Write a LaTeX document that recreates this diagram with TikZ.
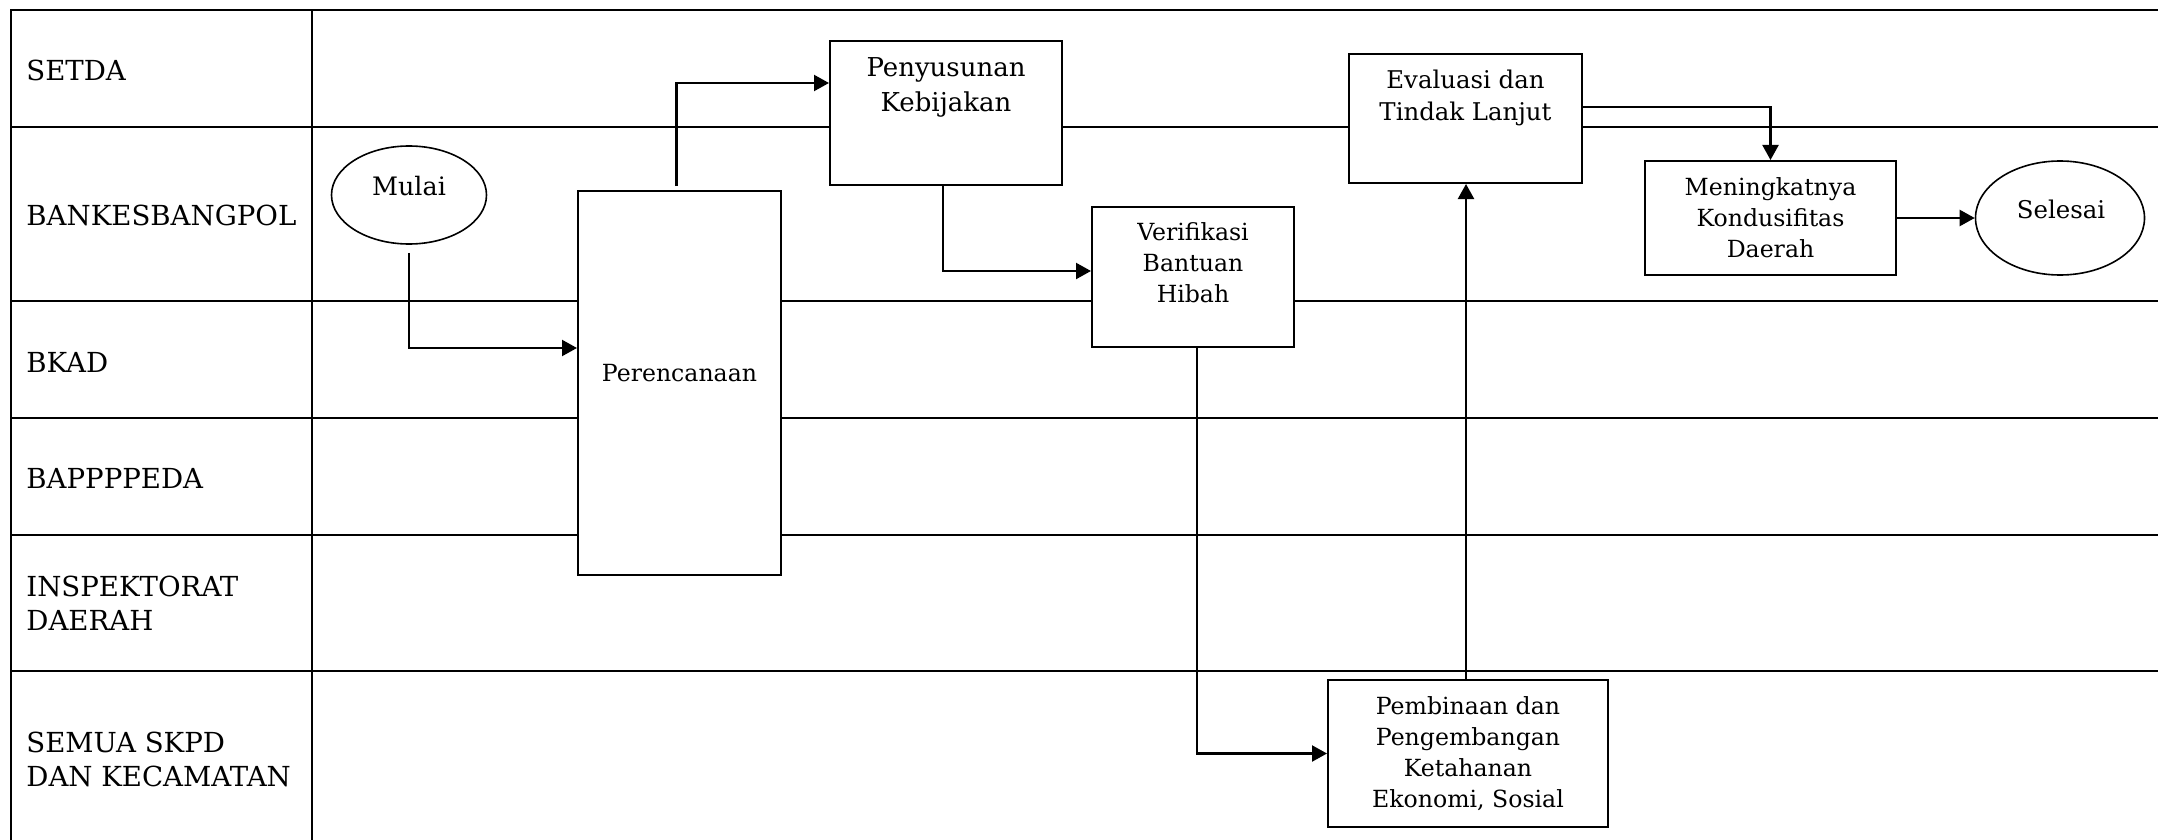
\documentclass[tikz,border=0pt]{standalone}
\usepackage{fontspec}
\setmainfont{DejaVu Serif}
\usetikzlibrary{arrows.meta,shapes.geometric}
\def\pxu{0.5pt}
\tikzset{
  lane/.style={line width=1.35pt},
  box/.style={draw, line width=1pt, fill=white, rectangle, inner sep=0pt},
  oval/.style={draw, ellipse, line width=0.8pt, fill=white, inner sep=0pt},
  boxtext/.style={inner sep=0pt, align=center, font=\fontsize{11.8}{15.5}\selectfont},
  lanelabel/.style={inner sep=0pt, align=left, anchor=west, font=\fontsize{13.8}{17}\selectfont},
  arr/.style={line width=1.1pt, -{Triangle[length=7.5pt,width=8pt]}},
}
\begin{document}
\begin{tikzpicture}[x=0.5pt,y=-0.5pt]
\useasboundingbox (0,0) rectangle (2158,840);

% swimlane grid
\draw[lane] (11,840) -- (11,10) -- (2158,10);
\draw[lane] (312,10) -- (312,840);
\foreach \y in {127,301,418,535,671} \draw[lane] (11,\y) -- (2158,\y);

% lane names
\node[lanelabel] (l1) at (26,70) {SETDA};
\node[lanelabel] (l2) at (26,215) {BANKESBANGPOL};
\node[lanelabel] (l3) at (26,362) {BKAD};
\node[lanelabel] (l4) at (26,478) {BAPPPPEDA};
\node[lanelabel] (l5) at (26,603) {INSPEKTORAT\\DAERAH};
\node[lanelabel] (l6) at (26,759) {SEMUA SKPD\\DAN KECAMATAN};

% start / end
\node[oval, minimum width=155*\pxu, minimum height=98*\pxu] (mulai) at (409,195) {};
\node[boxtext, font=\fontsize{12.7}{15.5}\selectfont] (mulait) at (409,186) {Mulai};
\node[oval, minimum width=169*\pxu, minimum height=114*\pxu] (selesai) at (2060,218) {};
\node[boxtext, font=\fontsize{12.2}{15.5}\selectfont] (selesait) at (2061,209) {Selesai};

% process boxes
\node[box, minimum width=203*\pxu, minimum height=384*\pxu] (plan) at (679.5,383) {};
\node[boxtext] (plant) at (679.5,373) {Perencanaan};

\node[box, minimum width=232*\pxu, minimum height=144*\pxu] (pen) at (946,113) {};
\node[boxtext, anchor=north, font=\fontsize{13}{17.5}\selectfont] (pent) at ([yshift=-8.5pt]pen.north) {Penyusunan\\Kebijakan};

\node[box, minimum width=202*\pxu, minimum height=140*\pxu] (ver) at (1193,277) {};
\node[boxtext, anchor=north] (vert) at ([yshift=-8pt]ver.north) {Verifikasi\\Bantuan\\Hibah};

\node[box, minimum width=233*\pxu, minimum height=129*\pxu] (eval) at (1465.5,118.5) {};
\node[boxtext, anchor=north, font=\fontsize{12.2}{16}\selectfont] (evalt) at ([yshift=-8.5pt]eval.north) {Evaluasi dan\\Tindak Lanjut};

\node[box, minimum width=280*\pxu, minimum height=147*\pxu] (pemb) at (1468,753.5) {};
\node[boxtext, anchor=north] (pembt) at ([yshift=-8.5pt]pemb.north) {Pembinaan dan\\Pengembangan\\Ketahanan\\Ekonomi, Sosial};

\node[box, minimum width=251*\pxu, minimum height=114*\pxu] (mening) at (1770.5,218) {};
\node[boxtext, anchor=north] (meningt) at ([yshift=-8.5pt]mening.north) {Meningkatnya\\Kondusifitas\\Daerah};

% flow
\draw[arr] ([yshift=-4pt]mulai.south) |- ([yshift=17.5pt]plan.west);
\draw[arr] ([xshift=-1.5pt,yshift=2pt]plan.north) |- ([yshift=15pt]pen.west);
\draw[arr] ([xshift=-1.5pt]pen.south) |- ([yshift=3pt]ver.west);
\draw[arr] ([xshift=2pt]ver.south) |- (pemb.west);
\draw[arr] ([xshift=-1pt]pemb.north) -- ([xshift=-1pt]pemb.north |- eval.south);
\draw[arr] ([yshift=5.75pt]eval.east) -| (mening.north);
\draw[arr] (mening.east) -- (selesai.west);
\end{tikzpicture}
\end{document}
